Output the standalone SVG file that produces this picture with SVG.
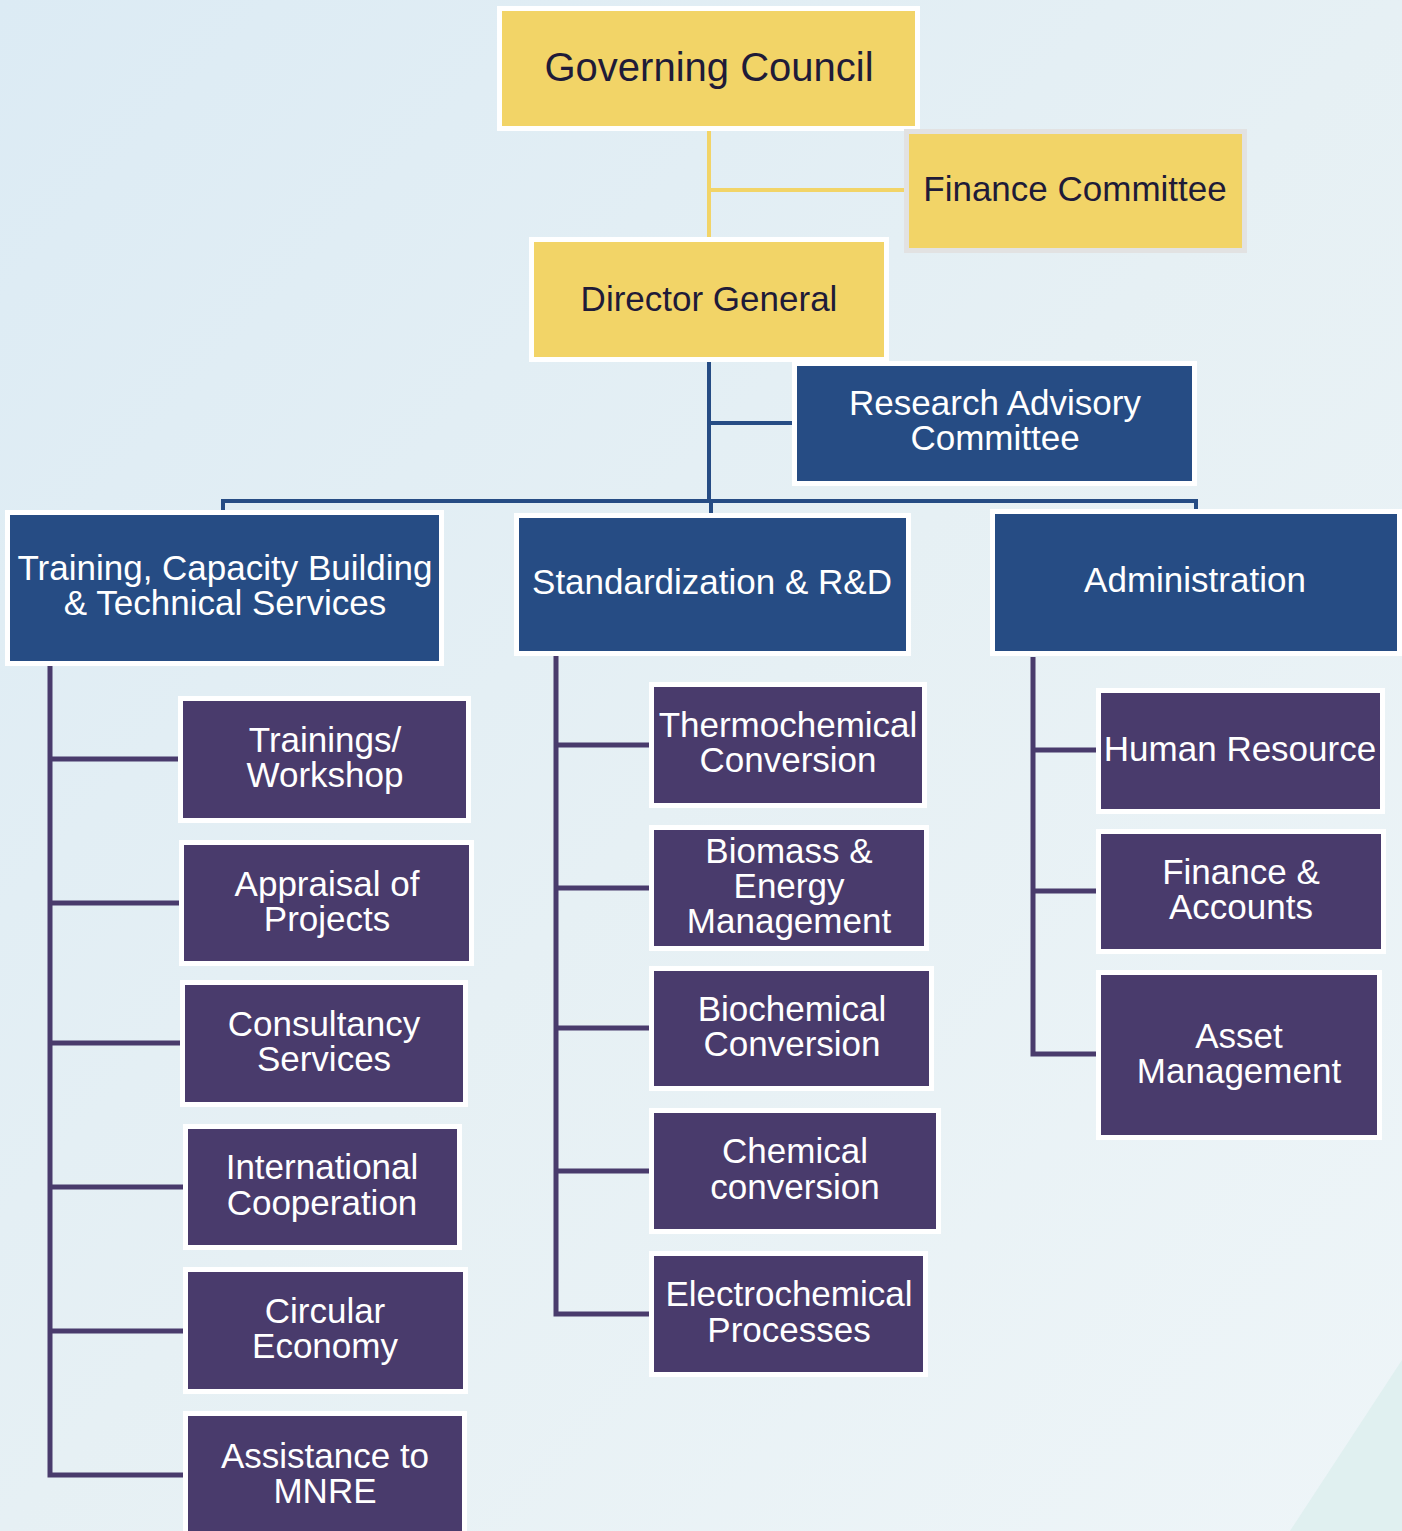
<svg xmlns="http://www.w3.org/2000/svg" width="1402" height="1531" viewBox="0 0 1402 1531">
<defs>
<linearGradient id="bg" x1="0" y1="0" x2="1" y2="1">
<stop offset="0" stop-color="#dcebf4"/>
<stop offset="0.5" stop-color="#e6f0f4"/>
<stop offset="1" stop-color="#eef5f8"/>
</linearGradient>
<style>
.gold{fill:#f2d467;stroke:#ffffff;stroke-width:5}
.goldg{fill:#f2d467;stroke:#e2e2e2;stroke-width:5}
.blue{fill:#264c84;stroke:#ffffff;stroke-width:5}
.purp{fill:#493b6c;stroke:#ffffff;stroke-width:5}
text{font-family:"Liberation Sans",Arial,sans-serif;font-size:35px;text-anchor:middle}
.dk{fill:#1f1b38}
.wt{fill:#ffffff}
.cy{stroke:#f2d467;stroke-width:4;fill:none}
.cb{stroke:#264c84;stroke-width:4;fill:none}
.cp{stroke:#493b6c;stroke-width:5;fill:none}
</style>
</defs>
<rect x="0" y="0" width="1402" height="1531" fill="url(#bg)"/>
<polygon points="1402,1360 1402,1531 1290,1531" fill="#e0f0f0"/>
<g id="connectors">
<line class="cy" x1="709" y1="131" x2="709" y2="238"/>
<line class="cy" x1="709" y1="190" x2="905" y2="190"/>
<line class="cb" x1="709" y1="362" x2="709" y2="503"/>
<line class="cb" x1="709" y1="423" x2="793" y2="423"/>
<polyline class="cb" points="223,511 223,501 1196,501 1196,509"/>
<line class="cb" x1="711" y1="501" x2="711" y2="513"/>
<polyline class="cp" points="50,666 50,1475 184,1475"/>
<line class="cp" x1="50" y1="759" x2="180" y2="759"/>
<line class="cp" x1="50" y1="903" x2="181" y2="903"/>
<line class="cp" x1="50" y1="1043" x2="182" y2="1043"/>
<line class="cp" x1="50" y1="1187" x2="184" y2="1187"/>
<line class="cp" x1="50" y1="1331" x2="184" y2="1331"/>
<polyline class="cp" points="556,656 556,1314 650,1314"/>
<line class="cp" x1="556" y1="745" x2="650" y2="745"/>
<line class="cp" x1="556" y1="888" x2="650" y2="888"/>
<line class="cp" x1="556" y1="1028" x2="650" y2="1028"/>
<line class="cp" x1="556" y1="1171" x2="650" y2="1171"/>
<polyline class="cp" points="1033,657 1033,1054 1097,1054"/>
<line class="cp" x1="1033" y1="750" x2="1097" y2="750"/>
<line class="cp" x1="1033" y1="891" x2="1097" y2="891"/>
</g>
<g id="governing-council"><rect class="gold" x="499.5" y="8.5" width="418" height="120"/><text class="dk" x="709" y="81" style="font-size:40px">Governing Council</text></g>
<g id="finance-committee"><rect class="goldg" x="906.5" y="131.5" width="338" height="119"/><text class="dk" x="1075" y="201">Finance Committee</text></g>
<g id="director-general"><rect class="gold" x="531.5" y="239.5" width="355" height="120"/><text class="dk" x="709" y="311">Director General</text></g>
<g id="research-advisory"><rect class="blue" x="794.5" y="363.5" width="400" height="120"/><text class="wt" x="995" y="415">Research Advisory</text><text class="wt" x="995" y="450">Committee</text></g>
<g id="training"><rect class="blue" x="7.5" y="512.5" width="434" height="151"/><text class="wt" x="225" y="580">Training, Capacity Building</text><text class="wt" x="225" y="615">&amp; Technical Services</text></g>
<g id="standardization"><rect class="blue" x="516.5" y="515.5" width="392" height="138"/><text class="wt" x="712" y="594">Standardization &amp; R&amp;D</text></g>
<g id="administration"><rect class="blue" x="992.5" y="511.5" width="407" height="142"/><text class="wt" x="1195" y="592">Administration</text></g>
<g id="trainings-workshop"><rect class="purp" x="180.5" y="698.5" width="288" height="122"/><text class="wt" x="325" y="752">Trainings/</text><text class="wt" x="325" y="787">Workshop</text></g>
<g id="appraisal"><rect class="purp" x="181.5" y="842.5" width="290" height="121"/><text class="wt" x="327" y="896">Appraisal of</text><text class="wt" x="327" y="931">Projects</text></g>
<g id="consultancy"><rect class="purp" x="182.5" y="982.5" width="283" height="122"/><text class="wt" x="324" y="1036">Consultancy</text><text class="wt" x="324" y="1071">Services</text></g>
<g id="international"><rect class="purp" x="185.5" y="1126.5" width="274" height="121"/><text class="wt" x="322" y="1179">International</text><text class="wt" x="322" y="1215">Cooperation</text></g>
<g id="circular"><rect class="purp" x="185.5" y="1269.5" width="280" height="122"/><text class="wt" x="325" y="1323">Circular</text><text class="wt" x="325" y="1358">Economy</text></g>
<g id="assistance"><rect class="purp" x="185.5" y="1413.5" width="279" height="130"/><text class="wt" x="325" y="1468">Assistance to</text><text class="wt" x="325" y="1503">MNRE</text></g>
<g id="thermochemical"><rect class="purp" x="651.5" y="684.5" width="273" height="121"/><text class="wt" x="788" y="737">Thermochemical</text><text class="wt" x="788" y="772">Conversion</text></g>
<g id="biomass"><rect class="purp" x="651.5" y="827.5" width="275" height="121"/><text class="wt" x="789" y="863">Biomass &amp;</text><text class="wt" x="789" y="898">Energy</text><text class="wt" x="789" y="933">Management</text></g>
<g id="biochemical"><rect class="purp" x="651.5" y="968.5" width="280" height="120"/><text class="wt" x="792" y="1021">Biochemical</text><text class="wt" x="792" y="1056">Conversion</text></g>
<g id="chemical"><rect class="purp" x="651.5" y="1110.5" width="287" height="121"/><text class="wt" x="795" y="1163">Chemical</text><text class="wt" x="795" y="1199">conversion</text></g>
<g id="electrochemical"><rect class="purp" x="651.5" y="1253.5" width="274" height="121"/><text class="wt" x="789" y="1306">Electrochemical</text><text class="wt" x="789" y="1342">Processes</text></g>
<g id="human-resource"><rect class="purp" x="1098.5" y="690.5" width="284" height="121"/><text class="wt" x="1240" y="761">Human Resource</text></g>
<g id="finance-accounts"><rect class="purp" x="1098.5" y="831.5" width="285" height="120"/><text class="wt" x="1241" y="884">Finance &amp;</text><text class="wt" x="1241" y="919">Accounts</text></g>
<g id="asset-management"><rect class="purp" x="1098.5" y="972.5" width="281" height="165"/><text class="wt" x="1239" y="1048">Asset</text><text class="wt" x="1239" y="1083">Management</text></g>
</svg>
